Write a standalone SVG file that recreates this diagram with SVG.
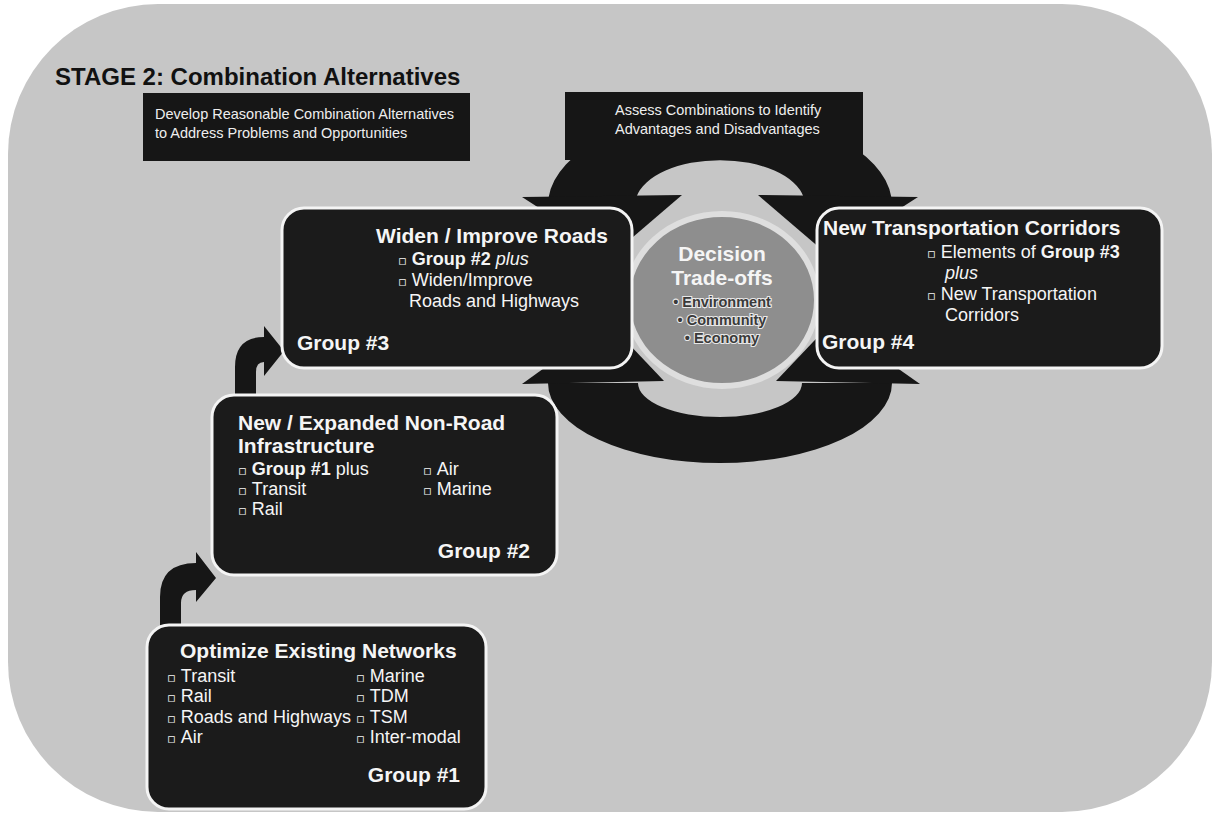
<svg xmlns="http://www.w3.org/2000/svg" width="1217" height="815" viewBox="0 0 1217 815">
  <defs>
    <style>
      .panel { fill: #c6c6c6; }
      .dark { fill: #161616; }
      .box { fill: #1b1b1b; stroke: #f4f4f4; stroke-width: 3; }
      .t { font-family: 'Liberation Sans', Arial, 'DejaVu Sans', sans-serif; fill: #f5f5f5; }
      .head { font-weight: bold; font-size: 21px; }
      .item { font-size: 18px; }
      .bul { font-size: 13px; font-family: 'DejaVu Sans', sans-serif; }
      .ban { font-size: 14.5px; fill: #eeeeee; }
      .crit { font-size: 14.5px; font-weight: bold; fill: #3a3a3a; stroke: #e8e8e8; stroke-width: 2.2px; paint-order: stroke; }
    </style>
  </defs>

  <rect width="1217" height="815" fill="#ffffff"/>
  <rect class="panel" x="8" y="4" width="1204" height="808" rx="150" ry="150"/>

  <text class="t" x="55" y="85" font-size="24" font-weight="bold" style="fill:#111111">STAGE 2: Combination Alternatives</text>

  <!-- circular trade-off arrows and the bent arrows between groups -->
  <g id="connectors">
    <path class="dark" d="M548.7,197 A172 92 0 0 1 891.3,197 L803.6,197 A85 45 0 0 0 636.4,197 Z"/>
    <polygon class="dark" points="522,197 682,195 612,255"/>
    <polygon class="dark" points="758,195 918,197 828,255"/>
    <path class="dark" d="M548,383 A172 80 0 0 0 892,383 L802,383 A82 34 0 0 1 638,383 Z"/>
    <polygon class="dark" points="522,384 664,381 608,322"/>
    <polygon class="dark" points="776,381 920,384 832,322"/>
    <path class="dark" d="M160,627 L160,597 Q160,563 196,563 L196,552 L216,578 L196,602 L196,590 Q181,590 181,603 L181,627 Z"/>
    <path class="dark" d="M235,395 L235,367 Q235,337 264,337 L264,326 L284,351 L264,376 L264,362 Q256,362 256,372 L256,395 Z"/>
  </g>

  <g id="tradeoffs">
    <ellipse cx="722" cy="300" rx="95" ry="86" fill="#8e8e8e" stroke="#dedede" stroke-width="6"/>
    <text class="t head" x="722" y="261" text-anchor="middle">Decision</text>
    <text class="t head" x="722" y="285" text-anchor="middle">Trade-offs</text>
    <text class="t crit" x="722" y="307" text-anchor="middle">• Environment</text>
    <text class="t crit" x="722" y="325" text-anchor="middle">• Community</text>
    <text class="t crit" x="722" y="343" text-anchor="middle">• Economy</text>
  </g>

  <g id="develop">
    <rect class="dark" x="143" y="93" width="327" height="68"/>
    <text class="t ban" x="155" y="119">Develop Reasonable Combination Alternatives</text>
    <text class="t ban" x="155" y="138">to Address Problems and Opportunities</text>
  </g>

  <g id="assess">
    <rect class="dark" x="565" y="92" width="298" height="68"/>
    <text class="t ban" x="615" y="115">Assess Combinations to Identify</text>
    <text class="t ban" x="615" y="134">Advantages and Disadvantages</text>
  </g>

  <g id="group3">
    <rect class="box" x="282" y="208" width="350" height="160" rx="22"/>
    <text class="t head" x="376" y="243">Widen / Improve Roads</text>
    <text class="t item" x="398" y="265"><tspan class="bul">▫</tspan><tspan dx="5" font-weight="bold">Group #2</tspan> <tspan font-style="italic">plus</tspan></text>
    <text class="t item" x="398" y="286"><tspan class="bul">▫</tspan><tspan dx="5">Widen/Improve</tspan></text>
    <text class="t item" x="409" y="307">Roads and Highways</text>
    <text class="t head" x="297" y="350">Group #3</text>
  </g>

  <g id="group4">
    <rect class="box" x="817" y="208" width="345" height="160" rx="22"/>
    <text class="t head" x="823" y="235">New Transportation Corridors</text>
    <text class="t item" x="927" y="258"><tspan class="bul">▫</tspan><tspan dx="5">Elements of </tspan><tspan font-weight="bold">Group #3</tspan></text>
    <text class="t item" x="945" y="279" font-style="italic">plus</text>
    <text class="t item" x="927" y="300"><tspan class="bul">▫</tspan><tspan dx="5">New Transportation</tspan></text>
    <text class="t item" x="945" y="321">Corridors</text>
    <text class="t head" x="822" y="349">Group #4</text>
  </g>

  <g id="group2">
    <rect class="box" x="212" y="395" width="345" height="180" rx="22"/>
    <text class="t head" x="238" y="430">New / Expanded Non-Road</text>
    <text class="t head" x="238" y="453">Infrastructure</text>
    <text class="t item" x="238" y="475"><tspan class="bul">▫</tspan><tspan dx="5" font-weight="bold">Group #1</tspan> plus</text>
    <text class="t item" x="238" y="495"><tspan class="bul">▫</tspan><tspan dx="5">Transit</tspan></text>
    <text class="t item" x="238" y="515"><tspan class="bul">▫</tspan><tspan dx="5">Rail</tspan></text>
    <text class="t item" x="423" y="475"><tspan class="bul">▫</tspan><tspan dx="5">Air</tspan></text>
    <text class="t item" x="423" y="495"><tspan class="bul">▫</tspan><tspan dx="5">Marine</tspan></text>
    <text class="t head" x="530" y="558" text-anchor="end">Group #2</text>
  </g>

  <g id="group1">
    <rect class="box" x="147" y="625" width="339" height="184" rx="22"/>
    <text class="t head" x="180" y="658">Optimize Existing Networks</text>
    <text class="t item" x="167" y="682"><tspan class="bul">▫</tspan><tspan dx="5">Transit</tspan></text>
    <text class="t item" x="167" y="702"><tspan class="bul">▫</tspan><tspan dx="5">Rail</tspan></text>
    <text class="t item" x="167" y="723"><tspan class="bul">▫</tspan><tspan dx="5">Roads and Highways</tspan></text>
    <text class="t item" x="167" y="743"><tspan class="bul">▫</tspan><tspan dx="5">Air</tspan></text>
    <text class="t item" x="356" y="682"><tspan class="bul">▫</tspan><tspan dx="5">Marine</tspan></text>
    <text class="t item" x="356" y="702"><tspan class="bul">▫</tspan><tspan dx="5">TDM</tspan></text>
    <text class="t item" x="356" y="723"><tspan class="bul">▫</tspan><tspan dx="5">TSM</tspan></text>
    <text class="t item" x="356" y="743"><tspan class="bul">▫</tspan><tspan dx="5">Inter-modal</tspan></text>
    <text class="t head" x="460" y="782" text-anchor="end">Group #1</text>
  </g>
</svg>
